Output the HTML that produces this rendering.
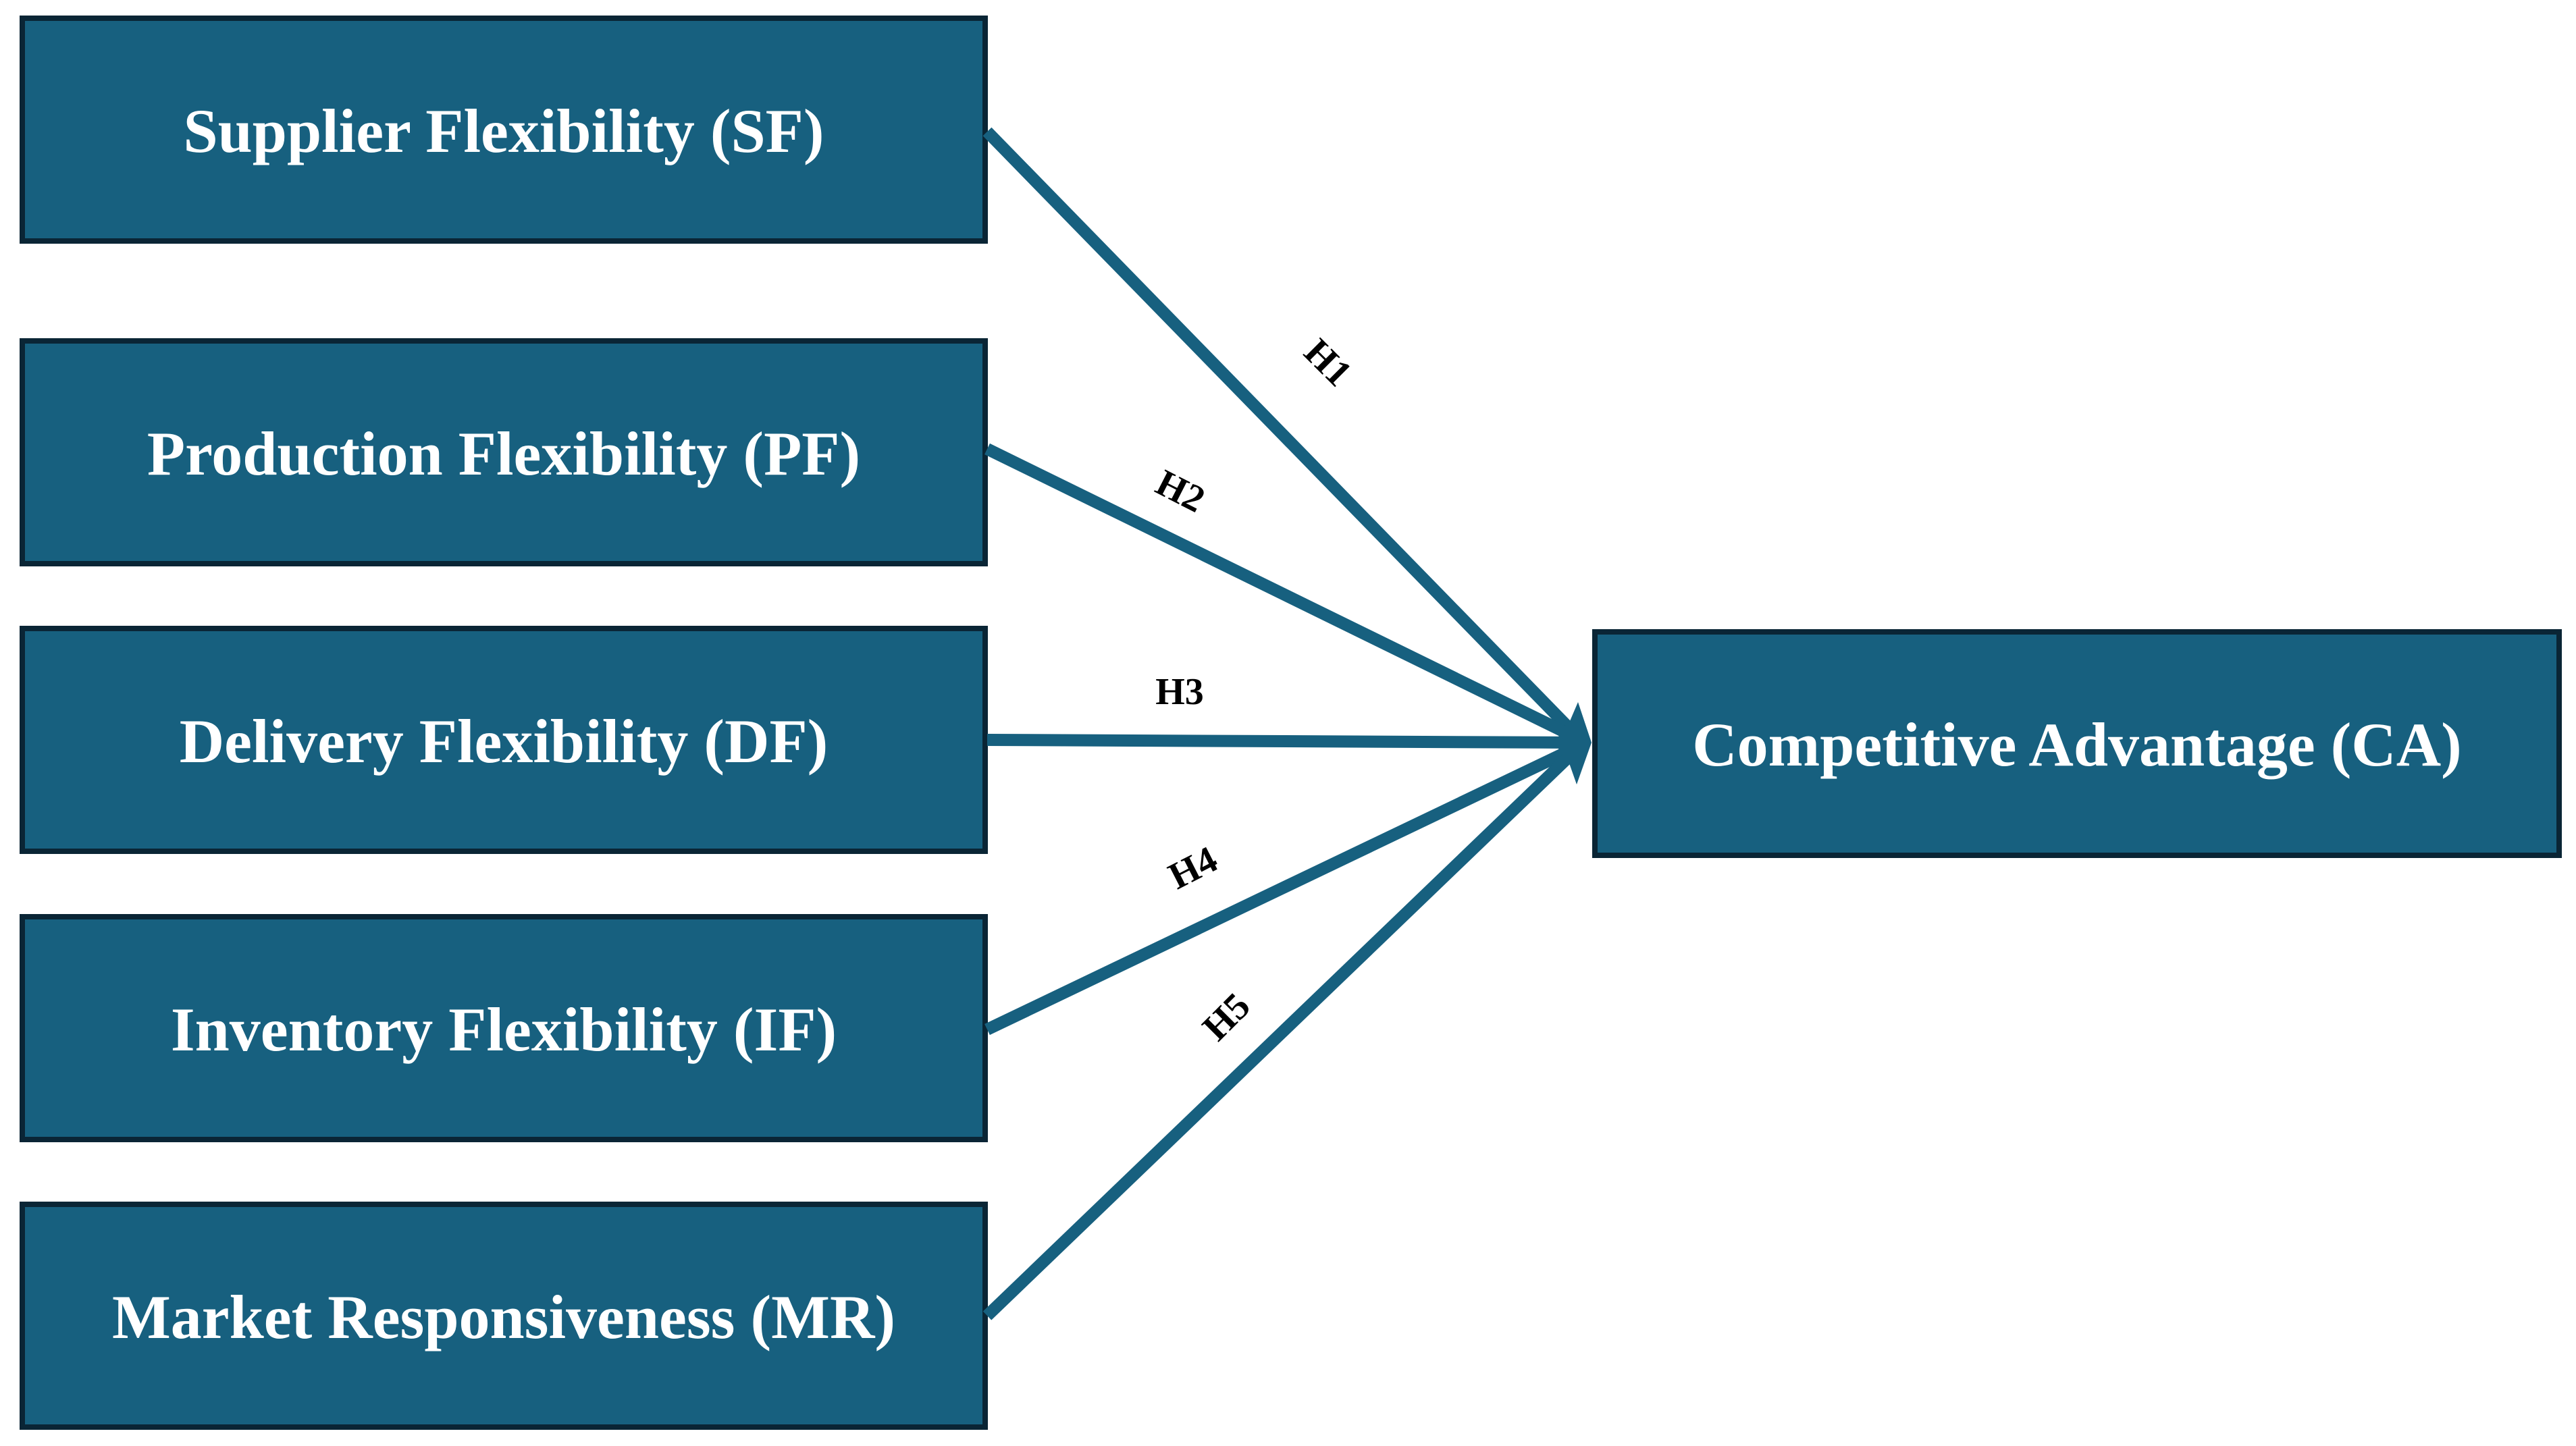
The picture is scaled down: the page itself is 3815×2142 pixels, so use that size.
<!DOCTYPE html>
<html><head><meta charset="utf-8"><style>
html,body{margin:0;padding:0;background:#fff;}
body{width:3815px;height:2137px;overflow:hidden;}
text{font-family:"Liberation Serif",serif;font-weight:bold;}
</style></head><body>
<svg width="3815" height="2137" viewBox="0 0 3815 2137" xmlns="http://www.w3.org/2000/svg">
<g fill="#17607f" stroke="#0a2535" stroke-width="8">
<rect x="33" y="27" width="1426" height="330"/>
<rect x="33" y="505" width="1426" height="330"/>
<rect x="33" y="931" width="1426" height="330"/>
<rect x="33" y="1358" width="1426" height="330"/>
<rect x="33" y="1784" width="1426" height="330"/>
<rect x="2362" y="936" width="1428" height="331"/>
</g>
<g fill="#fff" font-size="92" text-anchor="middle">
<text x="746" y="225">Supplier Flexibility (SF)</text>
<text x="746" y="703">Production Flexibility (PF)</text>
<text x="746" y="1129">Delivery Flexibility (DF)</text>
<text x="746" y="1556">Inventory Flexibility (IF)</text>
<text x="746" y="1982">Market Responsiveness (MR)</text>
<text x="3076" y="1134">Competitive Advantage (CA)</text>
</g>
<g stroke="#17607f" stroke-width="18" fill="none">
<line x1="1462" y1="195" x2="2335" y2="1090"/>
<line x1="1462" y1="665" x2="2335" y2="1093"/>
<line x1="1462" y1="1096" x2="2335" y2="1100"/>
<line x1="1462" y1="1525" x2="2335" y2="1107"/>
<line x1="1462" y1="1949" x2="2335" y2="1110"/>
</g>
<polygon points="2357,1100 2337,1040 2322,1075 2300,1100 2322,1125 2335,1162" fill="#17607f"/>
<g fill="#000" font-size="56" text-anchor="middle">
<text transform="translate(1968,536) rotate(45)" y="20">H1</text>
<text transform="translate(1749,726) rotate(27)" y="20">H2</text>
<text x="1747" y="1043">H3</text>
<text transform="translate(1766,1284) rotate(-27)" y="20">H4</text>
<text transform="translate(1815,1505) rotate(-45)" y="20">H5</text>
</g>
</svg>
</body></html>
